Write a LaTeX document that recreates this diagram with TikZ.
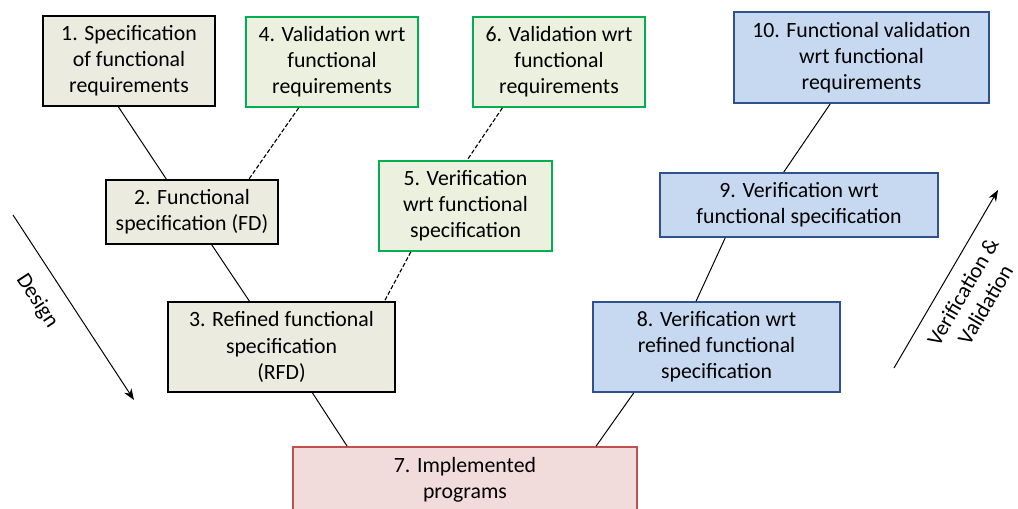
\documentclass[tikz,border=0pt]{standalone}
\usepackage{fontspec}
\setmainfont{Carlito}
\usepackage{tikz}
\usetikzlibrary{calc,arrows.meta}

\definecolor{specfill}{RGB}{236,235,224}
\definecolor{valfill}{RGB}{235,241,222}
\definecolor{valline}{RGB}{0,176,80}
\definecolor{verfill}{RGB}{198,217,241}
\definecolor{verline}{RGB}{47,82,143}
\definecolor{implfill}{RGB}{242,220,219}
\definecolor{implline}{RGB}{192,80,77}

\tikzset{
  vbox/.style={rectangle,align=center,inner sep=0pt,
    font=\fontsize{15.5}{18.6}\selectfont},
  specbox/.style={vbox,draw=black,fill=specfill,line width=1.2pt},
  valbox/.style={vbox,draw=valline,fill=valfill,line width=1.2pt},
  verbox/.style={vbox,draw=verline,fill=verfill,line width=1.2pt},
  implbox/.style={vbox,draw=implline,fill=implfill,line width=1.2pt},
  link/.style={line width=0.7pt},
  dlink/.style={line width=0.8pt,dash pattern=on 3pt off 1.5pt},
}

\begin{document}
\begin{tikzpicture}[x=0.025cm,y=-0.025cm,>={Stealth[length=8pt,width=6pt,inset=2.5pt]}]
        \useasboundingbox (0,0) rectangle (1018,508);
        % design side
        \node[specbox,minimum width=4.3cm,minimum height=2.25cm] (spec) at (129,61)
            {1. Specification\\of functional\\requirements};
        \node[specbox,minimum width=4.3cm,minimum height=1.6cm] (fd) at (192,212)
            {2. Functional\\specification (FD)};
        \node[specbox,minimum width=5.675cm,minimum height=2.25cm] (rfd) at (281.5,347)
            {3. Refined functional\\specification\\(RFD)};
        % validation and verification of the specifications
        \node[valbox,minimum width=4.3cm,minimum height=2.25cm] (valfd) at (332,62)
            {4. Validation wrt\\functional\\requirements};
        \node[valbox,minimum width=4.325cm,minimum height=2.25cm] (verrfd) at (465.5,206)
            {5. Verification\\wrt functional\\specification};
        \node[valbox,minimum width=4.3cm,minimum height=2.25cm] (valrfd) at (559,62)
            {6. Validation wrt\\functional\\requirements};
        % bottom of the V
        \node[implbox,minimum width=8.6cm,minimum height=1.625cm] (impl) at (465,479.5)
            {7. Implemented\\programs};
        % verification side
        \node[verbox,minimum width=6.175cm,minimum height=2.25cm] (vrfd) at (716.5,347)
            {8. Verification wrt\\refined functional\\specification};
        \node[verbox,minimum width=6.95cm,minimum height=1.6cm] (vfd) at (799,205)
            {9. Verification wrt\\functional specification};
        \node[verbox,minimum width=6.375cm,minimum height=2.275cm] (vreq) at (861.5,57.5)
            {10. Functional validation\\wrt functional\\requirements};
        % links
        \draw[link] (spec.-103.7) -- (fd.128);
        \draw[link] (fd.-59.3) -- (rfd.125.8);
        \draw[link] (rfd.-56.8) -- ($(impl.north west)+(55,0)$);
        \draw[link] ($(impl.north west)+(304,0)$) -- (vrfd.-151.4);
        \draw[link] (vrfd.114.5) -- (vfd.-156.3);
        \draw[link] (vfd.115.1) -- (vreq.-124.7);
        \draw[dlink] (valfd.-126.3) -- (fd.30.65);
        \draw[dlink] (valrfd.-141.9) -- (verrfd.88.1);
        \draw[dlink] (verrfd.-140.5) -- (rfd.24.1);
        % direction arrows
        \coordinate (dsgtop) at (13,215);
        \coordinate (dsgbot) at (134,400);
        \coordinate (vvbot) at (894,368);
        \coordinate (vvtop) at (998,190);
        \draw[->,line width=0.7pt] (dsgtop) -- (dsgbot);
        \draw[->,line width=0.7pt] (vvbot) -- (vvtop);
        \node[vbox,rotate=-56.8] (dsglabel) at (37,301) {Design};
        \node[vbox,rotate=59.7] (vvlabel) at (974,298) {Verification \&\\Validation};
\end{tikzpicture}
\end{document}
